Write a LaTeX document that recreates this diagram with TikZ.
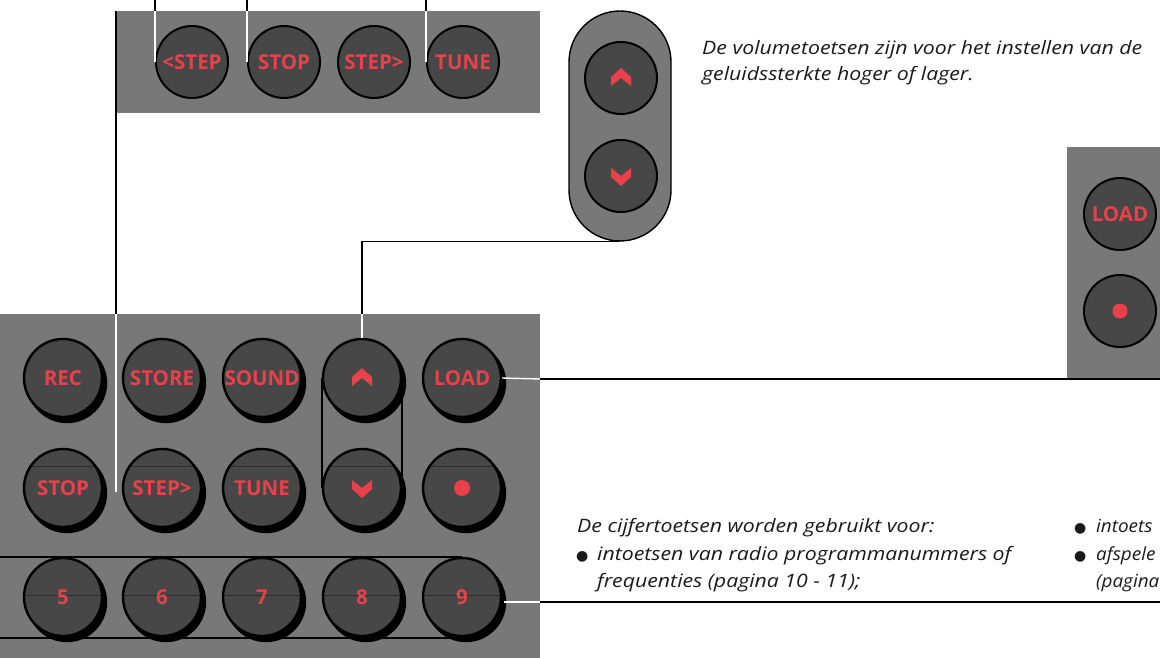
\documentclass[tikz,border=0pt]{standalone}
\usepackage{fontspec}
\setmainfont{Open Sans}
\newfontfamily\bodyfont[FakeStretch=1.15]{Open Sans}
\newfontfamily\edgefont[FakeStretch=1.05]{Open Sans}
\newfontfamily\symfont{DejaVu Sans}
\usetikzlibrary{calc}
\definecolor{panel}{HTML}{787878}
\definecolor{keydark}{HTML}{474747}
\definecolor{keyred}{HTML}{E8414B}
\definecolor{ink}{HTML}{1A1A1A}
\definecolor{chordcol}{HTML}{2E2E2E}
\begin{document}
\begin{tikzpicture}[x=1pt,y=-1pt,
  panelbox/.style={fill=panel,draw=none},
  key/.style={circle,draw=black,line width=2pt,fill=keydark,minimum size=72pt,inner sep=0pt,
    text=keyred,font=\fontsize{20.5}{20.5}\selectfont\bfseries},
  bigkey/.style={key,minimum size=78pt,line width=2.4pt,
    preaction={draw=black,fill=black,transform canvas={xshift=4pt,yshift=-5pt}}},
  chordA/.style={path picture={\draw[chordcol,line width=1pt]
    ([yshift=22pt]path picture bounding box.west) -- ([yshift=22pt]path picture bounding box.east);}},
  chordB/.style={path picture={\draw[chordcol,line width=1pt]
    ([yshift=2pt]path picture bounding box.west) -- ([yshift=2pt]path picture bounding box.east);}},
  conn/.style={draw=black,line width=1.4pt},
  wconn/.style={draw=white,line width=1.4pt},
  outline/.style={draw=black,line width=1.4pt},
  body/.style={anchor=base west,inner sep=0pt,text=ink,font=\bodyfont\fontsize{18.5}{18.5}\selectfont\itshape},
  edgebody/.style={body,font=\edgefont\fontsize{18}{18}\selectfont\itshape},
  bul/.style={anchor=base west,inner sep=0pt,text=ink,font=\symfont\fontsize{14}{14}\selectfont},
  upchev/.pic={\fill[keyred] (-10,8) -- (-10,-1) -- (0,-10) -- (10,-1) -- (10,8) -- (0,0) -- cycle;},
  downchev/.pic={\fill[keyred] (-10,-8) -- (-10,1) -- (0,10) -- (10,1) -- (10,-8) -- (0,0) -- cycle;}
]
\useasboundingbox (0,0) rectangle (1160,658);
\clip (0,0) rectangle (1160,658);

% ---------- panels ----------
\node[panelbox,anchor=north west,minimum width=424pt,minimum height=102pt,inner sep=0pt] (tpanel) at (116,11) {};
\node[panelbox,anchor=north west,minimum width=540pt,minimum height=345pt,inner sep=0pt] (mpanel) at (0,314) {};
\node[panelbox,anchor=north west,minimum width=100pt,minimum height=231pt,inner sep=0pt] (rpanel) at (1067,147) {};
\node[draw=black,line width=1.4pt,fill=panel,rounded corners=51pt,minimum width=102pt,minimum height=230pt,inner sep=0pt] (vpill) at (620,126) {};

% ---------- top panel keys ----------
\node[key] (tstepl) at (192,62) {<STEP};
\node[key] (tstop)  at (284,62) {STOP};
\node[key] (tstepr) at (374,62) {STEP>};
\node[key] (ttune)  at (463,62) {TUNE};

% ---------- volume keys ----------
\node[key] (vup) at (621,78) {};
\pic at (vup.center) {upchev};
\node[key] (vdown) at (621,176) {};
\pic at (vdown.center) {downchev};

% ---------- right panel keys ----------
\node[key] (rload) at (1120,214) {LOAD};
\node[key] (rdot) at (1120,311) {};
\fill[keyred] (rdot.center) circle (7.5);

% ---------- outlines in main panel ----------
\draw[outline] (322,378) -- (322,488);
\draw[outline] (402,378) -- (402,488);
\draw[outline] (-5,557) -- (462,557);
\draw[outline] (-5,638) -- (462,638);

% ---------- main panel keys ----------
\node[bigkey] (mrec)   at (63,378)  {REC};
\node[bigkey] (mstore) at (162,378) {STORE};
\node[bigkey] (msound) at (262,378) {SOUND};
\node[bigkey] (mup)    at (362,378) {};
\pic at (mup.center) {upchev};
\node[bigkey] (mload)  at (462,378) {LOAD};

\node[bigkey,chordA] (mstop)  at (63,488)  {STOP};
\node[bigkey,chordA] (mstepr) at (162,488) {STEP>};
\node[bigkey,chordA] (mtune)  at (262,488) {TUNE};
\node[bigkey,chordA] (mdown)  at (362,488) {};
\pic at (mdown.center) {downchev};
\node[bigkey,chordA] (mdot)   at (462,488) {};
\fill[keyred] (mdot.center) circle (8);

\node[bigkey,chordB] (m5) at (63,597)  {5};
\node[bigkey,chordB] (m6) at (162,597) {6};
\node[bigkey,chordB] (m7) at (262,597) {7};
\node[bigkey,chordB] (m8) at (362,597) {8};
\node[bigkey,chordB] (m9) at (462,597) {9};

% ---------- connectors ----------
\coordinate (c1) at (tstepl.west |- 0,0);
\coordinate (c2) at (tstop.west |- 0,0);
\coordinate (c3) at (ttune.west |- 0,0);
\draw[wconn] (c1) -- (tstepl.west);
\draw[wconn] (c2) -- (tstop.west);
\draw[wconn] (c3) -- (ttune.west);
\draw[conn] (c1) -- (c1 |- tpanel.north);
\draw[conn] (c2) -- (c2 |- tpanel.north);
\draw[conn] (c3) -- (c3 |- tpanel.north);

\coordinate (lend) at (116,492);
\draw[conn] (tpanel.north west) -- (tpanel.north west |- mpanel.north);
\draw[wconn] (tpanel.north west |- mpanel.north) -- (lend);

\draw[conn] (vpill.south) -- (vpill.south -| mup.north) -- (mup.north |- mpanel.north);
\draw[wconn] (mup.north |- mpanel.north) -- (mup.north);

\coordinate (loadend) at (1160,379);
\draw[wconn] (mload.east) -- (mpanel.east |- loadend);
\draw[conn] (mpanel.east |- loadend) -- (loadend);

\coordinate (nineend) at (1160,602);
\coordinate (ninestart) at ($(m9.east)+(2,5)$);
\draw[wconn] (ninestart) -- (mpanel.east |- nineend);
\draw[conn] (mpanel.east |- nineend) -- (nineend);

% ---------- texts ----------
\node[body] (vt1) at (702,55) {De volumetoetsen zijn voor het instellen van de};
\node[body] (vt2) at (702,81) {geluidssterkte hoger of lager.};

\node[body] (ct1) at (577,532) {De cijfertoetsen worden gebruikt voor:};
\node[bul]  (cb1) at (576,560) {●};
\node[body] (ct2) at (597,560) {intoetsen van radio programmanummers of};
\node[body] (ct3) at (597,587) {frequenties (pagina 10 - 11);};

\node[bul]  (db1) at (1074,532) {●};
\node[edgebody] (dt1) at (1096,532) {intoets};
\node[bul]  (db2) at (1074,560) {●};
\node[edgebody] (dt2) at (1096,560) {afspele};
\node[edgebody] (dt3) at (1096,587) {(pagina};
\end{tikzpicture}
\end{document}
